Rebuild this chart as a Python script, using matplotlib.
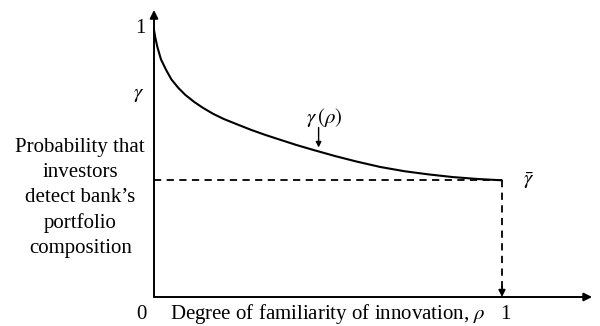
import matplotlib
matplotlib.use("Agg")
import matplotlib.pyplot as plt

# curve gamma(rho)
rho = [0.0, 0.004, 0.01, 0.02, 0.035, 0.05, 0.07, 0.09, 0.115, 0.14, 0.17, 0.2, 0.24,
       0.28, 0.32, 0.36, 0.41, 0.46, 0.52, 0.58, 0.65, 0.72, 0.79, 0.86, 0.93, 1.0]
gamma = [1.0, 0.97, 0.935, 0.89, 0.85, 0.815, 0.783, 0.757, 0.731, 0.709, 0.686, 0.667, 0.646,
         0.6255, 0.607, 0.59, 0.569, 0.55, 0.528, 0.508, 0.487, 0.471, 0.459, 0.449, 0.442, 0.437]
gamma_bar = 0.437

plt.rcParams['font.family'] = ['Liberation Serif', 'DejaVu Serif']
plt.rcParams['mathtext.fontset'] = 'stix'

fig = plt.figure(figsize=(6, 3.26), dpi=100)
ax = fig.add_axes([0, 0, 1, 1])
ax.set_xlim(-154 / 348, (600 - 154) / 348)
ax.set_ylim(-29 / 267, 1 + 30 / 267)
ax.axis('off')

# axes with arrows
arr = dict(arrowstyle='-|>', lw=1.4, color='black', mutation_scale=12, shrinkA=0, shrinkB=0)
ax.annotate('', xy=(0, 1.075), xytext=(0, 0), arrowprops=arr)
ax.annotate('', xy=(1.259, 0), xytext=(0, 0), arrowprops=arr)

# curve
ax.plot(rho, gamma, color='black', lw=1.5, solid_capstyle='round')

# dashed guides
ax.plot([0, 1], [gamma_bar, gamma_bar], color='black', lw=1.3, ls=(0, (4, 3)))
ax.plot([1, 1], [gamma_bar, 0.03], color='black', lw=1.3, ls=(0, (4, 3)))
ax.annotate('', xy=(1, 0), xytext=(1, 0.04), arrowprops=dict(arrowstyle='-|>', lw=1.2, color='black',
            mutation_scale=10, shrinkA=0, shrinkB=0))

# gamma(rho) pointer
ax.annotate('', xy=(0.473, 0.56), xytext=(0.473, 0.635),
            arrowprops=dict(arrowstyle='-|>', lw=1.0, color='black', mutation_scale=8, shrinkA=0, shrinkB=0))

fs = 15
ax.text(0.49, 0.673, r'$\gamma\,(\rho)$', fontsize=fs, ha='center', va='center')
ax.text(-0.04, 1.005, '1', fontsize=fs, ha='center', va='center')
ax.text(-0.045, 0.76, r'$\gamma$', fontsize=fs, ha='center', va='center')
ax.text(1.075, 0.437, r'$\bar{\gamma}$', fontsize=fs, ha='center', va='center')
ax.text(-0.035, -0.066, '0', fontsize=fs, ha='center', va='center')
ax.text(1.01, -0.066, '1', fontsize=fs, ha='center', va='center')
ax.text(0.5, -0.062, r'Degree of familiarity of innovation, $\rho$', fontsize=fs, ha='center', va='center')
ax.text(-0.212, 0.372, "Probability that\ninvestors\ndetect bank\u2019s\nportfolio\ncomposition",
        fontsize=fs, ha='center', va='center', linespacing=1.42)

fig.savefig('out.png', dpi=100)
